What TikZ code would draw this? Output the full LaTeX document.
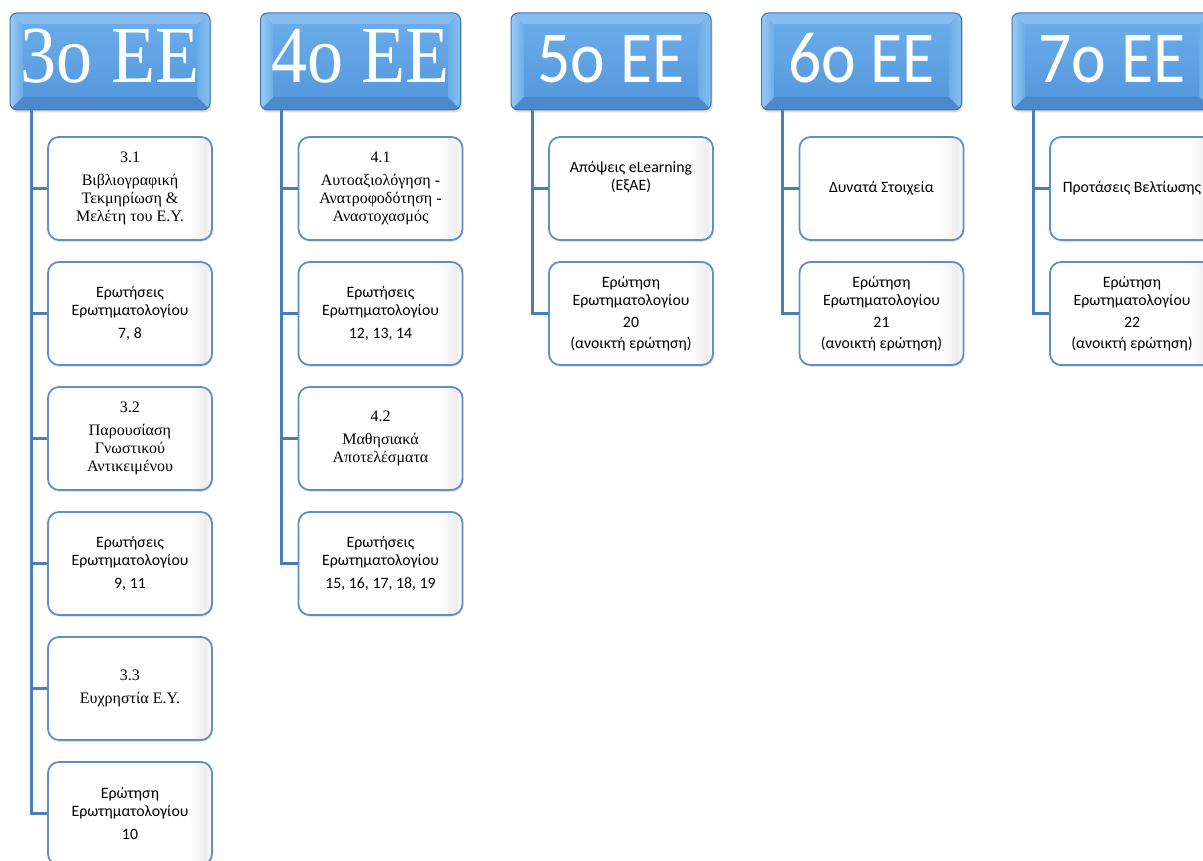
\documentclass[tikz,border=0pt]{standalone}
\usepackage{fontspec}
\setmainfont{Liberation Serif}
\newfontfamily\carl{Carlito}
\usetikzlibrary{shadows}
\definecolor{conncol}{HTML}{4A7EBB}
\definecolor{boxborder}{HTML}{5F8FCA}
\definecolor{hdrborder}{HTML}{3F74AE}
\definecolor{hdrmid}{HTML}{5A9BDC}
\definecolor{bevtop}{HTML}{86BDEE}
\definecolor{bevleft}{HTML}{9CCBF3}
\definecolor{bevright}{HTML}{88C0EF}
\definecolor{bevbot}{HTML}{4B89CA}
\definecolor{facetop}{HTML}{6AACE9}
\definecolor{facebot}{HTML}{5699DC}
\definecolor{boxright}{HTML}{EDEDED}

\pgfdeclarehorizontalshading{boxshade}{100bp}{color(0bp)=(white); color(25bp)=(white); color(68bp)=(white); color(73bp)=(boxright); color(75bp)=(white); color(100bp)=(white)}

\tikzset{
  conn/.style={draw=conncol, line width=3pt},
  childbox/.style={draw=boxborder, line width=1.8pt, rounded corners=11pt,
    minimum width=164pt, minimum height=103pt, inner sep=2pt, align=center,
    shading=boxshade,
    drop shadow={opacity=0.2, shadow xshift=0.8pt, shadow yshift=-1.8pt}},
  serifbox/.style={childbox, font=\fontsize{16}{18}\selectfont},
  sansbox/.style={childbox, font=\carl\fontsize{15.8}{18}\selectfont},
  hdrtext/.style={text=white, anchor=base, inner sep=0pt},
}

\newcommand\hdr[5]{% name, left x, font, xscale, text
  \begin{scope}[shift={(#2,13)}]
    \fill[black, opacity=0.12, rounded corners=7pt] (1.5,2) rectangle (201.5,99.5);
    \begin{scope}
      \clip[rounded corners=7pt] (0,0) rectangle (200,97);
      \fill[hdrmid] (0,0) rectangle (200,97);
      \fill[bevtop] (0,0) -- (200,0) -- (187,12) -- (13,12) -- cycle;
      \shade[left color=bevleft, right color=facetop] (0,0) -- (13,12) -- (13,84) -- (0,97) -- cycle;
      \shade[left color=facetop, right color=bevright] (200,0) -- (187,12) -- (187,84) -- (200,97) -- cycle;
      \fill[bevbot] (0,97) -- (13,84) -- (187,84) -- (200,97) -- cycle;
      \shade[top color=facetop, bottom color=facebot] (13,12) rectangle (187,84);
    \end{scope}
    \draw[hdrborder, line width=1pt, rounded corners=7pt] (0,0) rectangle (200,97);
    \node[hdrtext, font=#3] (#1) at (100,70) {\scalebox{#4}[1]{#5}};
    \coordinate (#1t) at (21,97);
  \end{scope}
}

\begin{document}
\begin{tikzpicture}[x=1pt, y=-1pt]
\useasboundingbox (0,0) rectangle (1203,861);
\clip (0,0) rectangle (1203,861);
\fill[white] (0,0) rectangle (1203,861);

% headers
\hdr{h3}{10}{\fontsize{81}{83}\selectfont}{0.89}{3o EE}
\hdr{h4}{260.5}{\fontsize{81}{83}\selectfont}{0.89}{4o EE}
\hdr{h5}{511}{\carl\fontsize{73}{75}\selectfont}{0.9}{5o EE}
\hdr{h6}{761.5}{\carl\fontsize{73}{75}\selectfont}{0.9}{6o EE}
\hdr{h7}{1012}{\carl\fontsize{73}{75}\selectfont}{0.9}{7o EE}

% column 3
\node[serifbox] (c31) at (130,188.5) {3.1\\[5pt]Βιβλιογραφική\\Τεκμηρίωση \&\\Μελέτη του Ε.Υ.};
\node[sansbox]  (c32) at (130,313.5) {Ερωτήσεις\\Ερωτηματολογίου\\[5pt]7, 8};
\node[serifbox] (c33) at (130,438.5) {3.2\\[5pt]Παρουσίαση\\Γνωστικού\\Αντικειμένου};
\node[sansbox]  (c34) at (130,563.5) {Ερωτήσεις\\Ερωτηματολογίου\\[5pt]9, 11};
\node[serifbox] (c35) at (130,688.5) {3.3\\[5pt]Ευχρηστία Ε.Υ.};
\node[sansbox]  (c36) at (130,813.5) {Ερώτηση\\Ερωτηματολογίου\\[5pt]10};

% column 4
\node[serifbox] (c41) at (380.5,188.5) {4.1\\[5pt]Αυτοαξιολόγηση -\\Ανατροφοδότηση -\\Αναστοχασμός};
\node[sansbox]  (c42) at (380.5,313.5) {Ερωτήσεις\\Ερωτηματολογίου\\[5pt]12, 13, 14};
\node[serifbox] (c43) at (380.5,438.5) {4.2\\[5pt]Μαθησιακά\\Αποτελέσματα};
\node[sansbox]  (c44) at (380.5,563.5) {Ερωτήσεις\\Ερωτηματολογίου\\[5pt]15, 16, 17, 18, 19};

% column 5
\node[sansbox] (c51) at (631,188.5) {Απόψεις eLearning\\(ΕξΑΕ)\\[7pt]\mbox{}};
\node[sansbox] (c52) at (631,313.5) {Ερώτηση\\Ερωτηματολογίου\\[4pt]20\\[3pt](ανοικτή ερώτηση)};

% column 6
\node[sansbox] (c61) at (881.5,188.5) {Δυνατά Στοιχεία};
\node[sansbox] (c62) at (881.5,313.5) {Ερώτηση\\Ερωτηματολογίου\\[4pt]21\\[3pt](ανοικτή ερώτηση)};

% column 7
\node[sansbox] (c71) at (1132,188.5) {Προτάσεις Βελτίωσης};
\node[sansbox] (c72) at (1132,313.5) {Ερώτηση\\Ερωτηματολογίου\\[4pt]22\\[3pt](ανοικτή ερώτηση)};

% connectors
\foreach \c in {c31,c32,c33,c34,c35,c36} \draw[conn] (h3t) |- (\c.west);
\foreach \c in {c41,c42,c43,c44} \draw[conn] (h4t) |- (\c.west);
\foreach \c in {c51,c52} \draw[conn] (h5t) |- (\c.west);
\foreach \c in {c61,c62} \draw[conn] (h6t) |- (\c.west);
\foreach \c in {c71,c72} \draw[conn] (h7t) |- (\c.west);
\end{tikzpicture}
\end{document}
